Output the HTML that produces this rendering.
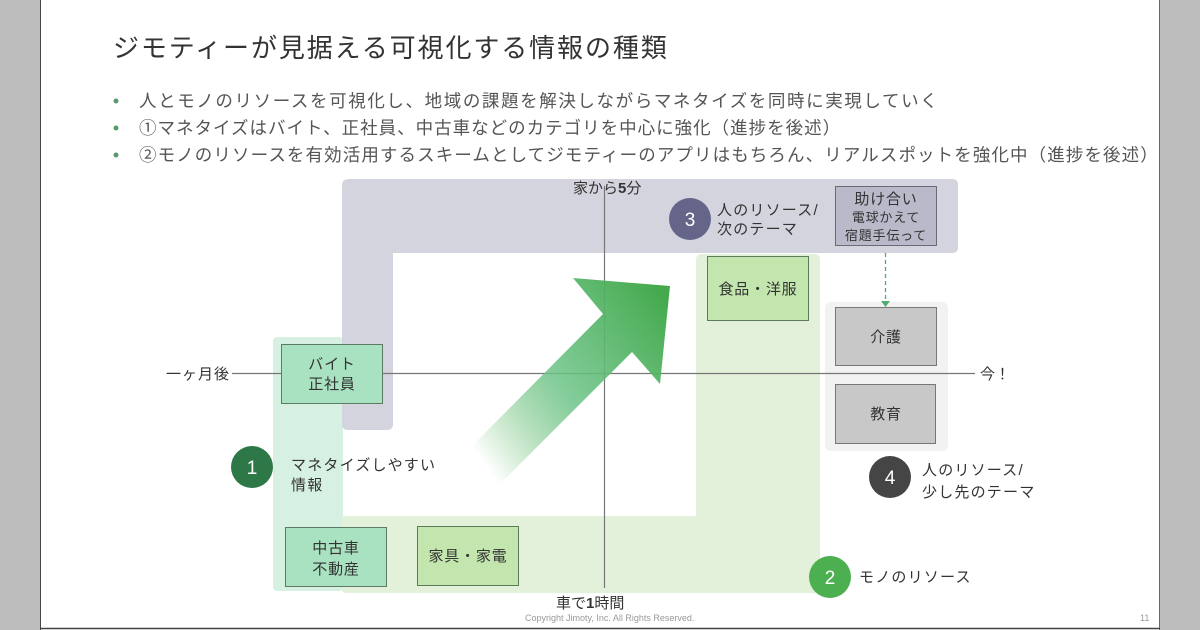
<!DOCTYPE html>
<html><head><meta charset="utf-8"><style>
html,body{margin:0;padding:0;width:1200px;height:630px;overflow:hidden;background:#fff}
svg{display:block}
text{font-family:"Liberation Sans","Noto Sans CJK JP",sans-serif}
</style></head><body>
<svg width="1200" height="630" viewBox="0 0 1200 630" xmlns="http://www.w3.org/2000/svg">
<defs>
<linearGradient id="ag" x1="470" y1="445" x2="665" y2="300" gradientUnits="userSpaceOnUse">
<stop offset="0" stop-color="#4caf50" stop-opacity="0"/>
<stop offset="0.45" stop-color="#6cc387" stop-opacity="0.85"/>
<stop offset="1" stop-color="#45aa4e"/>
</linearGradient>
</defs>
<rect x="0" y="0" width="40" height="630" fill="#bdbdbd"/>
<rect x="1160" y="0" width="40" height="630" fill="#bdbdbd"/>
<line x1="40.5" y1="0" x2="40.5" y2="630" stroke="#444" stroke-width="1"/>
<line x1="1159.5" y1="0" x2="1159.5" y2="630" stroke="#666" stroke-width="1"/>
<line x1="40" y1="628.5" x2="1160" y2="628.5" stroke="#444" stroke-width="1.5"/>

<text x="113" y="57" font-size="26" fill="#333" letter-spacing="1.9">ジモティーが見据える可視化する情報の種類</text>
<g font-size="17.5" fill="#555" letter-spacing="1.1">
<circle cx="116" cy="101" r="2.5" fill="#5a9a70"/><text x="139" y="107" letter-spacing="1.6">人とモノのリソースを可視化し、地域の課題を解決しながらマネタイズを同時に実現していく</text>
<circle cx="116" cy="128" r="2.5" fill="#5a9a70"/><text x="139" y="134" letter-spacing="1">①マネタイズはバイト、正社員、中古車などのカテゴリを中心に強化（進捗を後述）</text>
<circle cx="116" cy="155" r="2.5" fill="#5a9a70"/><text x="139" y="161">②モノのリソースを有効活用するスキームとしてジモティーのアプリはもちろん、リアルスポットを強化中（進捗を後述）</text>
</g>

<rect x="273" y="337" width="70" height="254" rx="4" fill="#d6f0e2"/>
<rect x="342" y="516" width="370" height="77" rx="3" fill="#e3f1db"/>
<rect x="696" y="254" width="124" height="339" rx="5" fill="#e3f1db"/>
<path d="M350 179 H952 Q958 179 958 185 V247 Q958 253 952 253 H393 V424 Q393 430 387 430 H348 Q342 430 342 424 V185 Q342 179 350 179 Z" fill="#d4d4de"/>
<rect x="825" y="302" width="123" height="149" rx="6" fill="#f2f2f2"/>

<line x1="604.5" y1="186" x2="604.5" y2="588" stroke="#777" stroke-width="1.2"/>
<line x1="232" y1="373.5" x2="975" y2="373.5" stroke="#777" stroke-width="1.2"/>

<polygon points="470,448 603,314 573,278 670,286 660,384 632,352 498,486" fill="url(#ag)"/>

<g font-size="15" fill="#333" text-anchor="middle" letter-spacing="0.8">
<rect x="281.5" y="344.5" width="101" height="59" fill="#a9e2c1" stroke="#5d7a67"/>
<text x="332" y="369">バイト</text><text x="332" y="389">正社員</text>
<rect x="285.5" y="527.5" width="101" height="59" fill="#a9e2c1" stroke="#5d7a67"/>
<text x="336" y="553">中古車</text><text x="336" y="574">不動産</text>
<rect x="417.5" y="526.5" width="101" height="59" fill="#c3e6ae" stroke="#5d7a5a"/>
<text x="468" y="561">家具・家電</text>
<rect x="707.5" y="256.5" width="101" height="64" fill="#c3e6ae" stroke="#5d7a5a"/>
<text x="758" y="294">食品・洋服</text>
<rect x="835.5" y="186.5" width="101" height="59" fill="#b9b9c9" stroke="#6a6a7a"/>
<text x="886" y="204">助け合い</text>
<text x="886" y="222" font-size="13">電球かえて</text>
<text x="886" y="240" font-size="13">宿題手伝って</text>
<rect x="835.5" y="307.5" width="101" height="58" fill="#c8c8c8" stroke="#777"/>
<text x="886" y="342">介護</text>
<rect x="835.5" y="384.5" width="100" height="59" fill="#c8c8c8" stroke="#777"/>
<text x="886" y="419">教育</text>
</g>

<line x1="885.5" y1="253" x2="885.5" y2="301" stroke="#4caf70" stroke-width="1.3" stroke-dasharray="4,3"/>
<polygon points="881,301 890,301 885.5,307" fill="#4caf70"/>

<g font-size="15" fill="#333">
<text x="573" y="193">家から<tspan font-weight="bold">5</tspan>分</text>
<text x="556" y="608">車で<tspan font-weight="bold">1</tspan>時間</text>
<text x="166" y="379" letter-spacing="1">一ヶ月後</text>
<text x="980" y="379">今！</text>
</g>

<g font-size="19" fill="#fff" text-anchor="middle">
<circle cx="252" cy="467" r="21" fill="#2e7747"/><text x="252" y="474">1</text>
<circle cx="690" cy="219" r="21" fill="#656589"/><text x="690" y="226">3</text>
<circle cx="890" cy="477" r="21" fill="#454545"/><text x="890" y="484">4</text>
<circle cx="830" cy="577" r="21" fill="#4caf50"/><text x="830" y="584">2</text>
</g>
<g font-size="15" fill="#333" letter-spacing="1.2">
<text x="291" y="470">マネタイズしやすい</text><text x="291" y="490">情報</text>
<text x="717" y="215">人のリソース/</text><text x="717" y="234">次のテーマ</text>
<text x="922" y="475">人のリソース/</text><text x="922" y="497">少し先のテーマ</text>
<text x="859" y="582">モノのリソース</text>
</g>
<text x="525" y="621" font-size="9" fill="#999">Copyright Jimoty, Inc. All Rights Reserved.</text>
<text x="1140" y="621" font-size="9" fill="#999">11</text>
</svg>
</body></html>
